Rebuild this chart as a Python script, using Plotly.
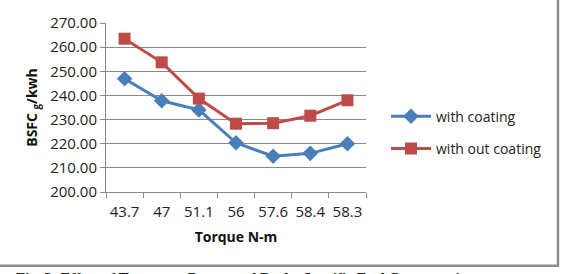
import plotly.graph_objects as go

torque = ["43.7", "47", "51.1", "56", "57.6", "58.4", "58.3"]
with_coating = [246.9, 237.8, 234.0, 220.4, 214.8, 216.0, 220.0]
without_coating = [263.5, 253.7, 238.7, 228.3, 228.5, 231.6, 238.0]
y_ticks = [200, 210, 220, 230, 240, 250, 260, 270]
y_tick_text = ["%.2f" % v for v in y_ticks]

W, H = 572, 274
L, R, T, B = 106, 366, 20, 192
pw, ph = R - L, B - T

def px(x):
    return (x - L) / pw

def py(y):
    return (B - y) / ph

fig = go.Figure()
fig.add_trace(go.Scatter(
    x=torque, y=with_coating, name="with coating", mode="lines+markers",
    legendgroup="a",
    line=dict(color="#4A7EBB", width=3),
    marker=dict(symbol="diamond", size=12, color="#4A7EBB"),
))
fig.add_trace(go.Scatter(
    x=torque, y=without_coating, name="with out coating", mode="lines+markers",
    legendgroup="b",
    line=dict(color="#BE4B48", width=3),
    marker=dict(symbol="square", size=12, color="#BE4B48"),
))

axis_font = dict(family="Open Sans, Liberation Sans, sans-serif", size=15, color="#222")

fig.update_layout(
    width=W, height=H,
    margin=dict(l=L, r=W - R, t=T, b=H - B),
    paper_bgcolor="white", plot_bgcolor="white",
    showlegend=True,
    legend=dict(x=px(386), y=py(99), xanchor="left", yanchor="top",
                font=dict(family="Open Sans, sans-serif", size=14, color="#222"),
                tracegroupgap=11, itemwidth=40, bgcolor="rgba(0,0,0,0)"),
    xaxis=dict(
        type="category", range=[-0.5, 6.5], showgrid=False,
        showline=True, linecolor="#8a8a8a", linewidth=1,
        ticks="outside", ticklen=5, tickcolor="#8a8a8a", tickangle=0,
        tickson="boundaries", tickfont=axis_font, ticklabelstandoff=6,
        title=dict(text="<b>Torque N-m</b>", standoff=12,
                   font=dict(family="Open Sans, Liberation Sans, sans-serif", size=14, color="#111")),
    ),
    yaxis=dict(
        range=[200, 270], tickvals=y_ticks, ticktext=y_tick_text,
        showgrid=True, gridcolor="#8a8a8a", gridwidth=1,
        showline=True, linecolor="#8a8a8a", linewidth=1,
        ticks="outside", ticklen=5, tickcolor="#8a8a8a",
        tickfont=axis_font, zeroline=False,
        title=dict(text="<b>BSFC <sub>g</sub>/kwh</b>", standoff=9,
                   font=dict(family="Open Sans, Liberation Sans, sans-serif", size=14, color="#111")),
    ),
)

# outer chart border (right and bottom visible)
fig.add_shape(type="line", xref="paper", yref="paper",
              x0=px(558), x1=px(558), y0=py(267), y1=py(-10),
              line=dict(color="#8c8c8c", width=2.5))
fig.add_shape(type="line", xref="paper", yref="paper",
              x0=px(-10), x1=px(559), y0=py(267), y1=py(267),
              line=dict(color="#8c8c8c", width=2.5))

fig.add_annotation(
    text="<b>Fig. 3: Effect of Torque on Power and Brake Specific Fuel Consumption</b>",
    xref="paper", yref="paper", x=px(14), y=py(269), xanchor="left", yanchor="top",
    showarrow=False, font=dict(family="Liberation Serif, serif", size=15, color="#111"),
)

fig.write_html("out.html")
